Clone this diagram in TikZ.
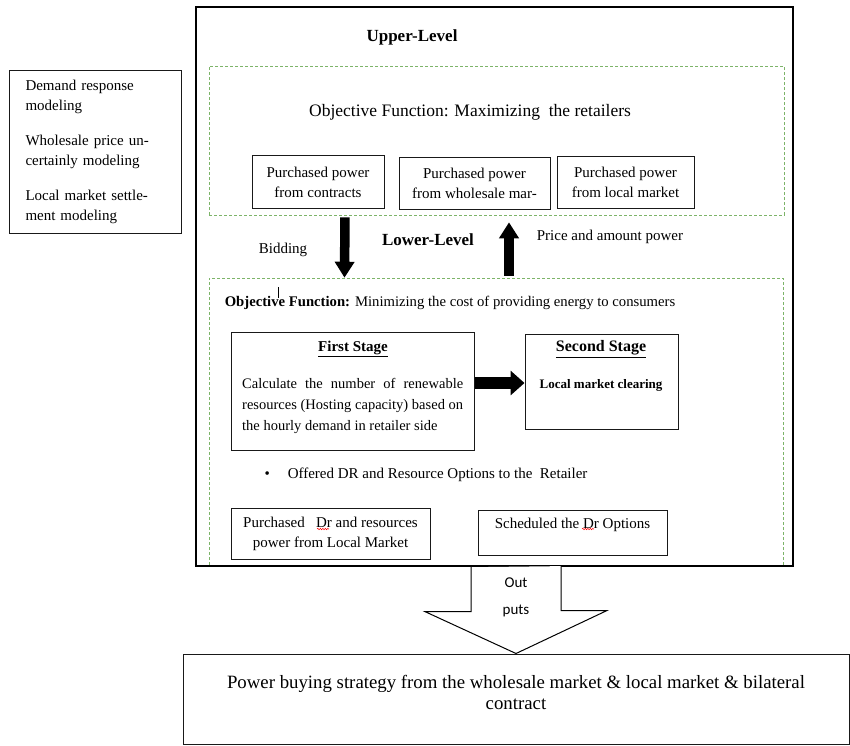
\documentclass[tikz,border=0pt]{standalone}
\usepackage{fontspec}
\setmainfont{Liberation Serif}
\newfontfamily\calibri{Carlito}
\usepackage{tikz}
\usetikzlibrary{arrows.meta,positioning,calc,decorations.pathmorphing}
\definecolor{dashgreen}{RGB}{125,180,105}

\begin{document}
\begin{tikzpicture}[x=1pt,y=-1pt,box/.style={draw=black!90,line width=1pt,rectangle,fill=white},zone/.style={draw=dashgreen,dash pattern=on 3pt off 2pt,line width=0.6pt,rectangle},body/.style={font=\fontsize{15}{20}\selectfont,align=center},level/.style={font=\fontsize{17}{20}\selectfont\bfseries},fat/.style={line width=9.5pt,-{Triangle[width=19pt,length=16pt]}},spell/.style={draw=red,line width=0.5pt,decorate,decoration={snake,amplitude=0.7pt,segment length=2.5pt}}]
	\useasboundingbox (0,0) rectangle (850,745);
	\node[zone,minimum width=575pt,minimum height=149pt]	(upzone)	at (496.5,140.5)	{};
	\node[zone,minimum width=574pt,minimum height=288pt]	(lowzone)	at (496,422)	{};
	\node[draw,line width=1.2pt,minimum width=597pt,minimum height=559pt]	(main)	at (494.5,286.5)	{};

	\node[box,anchor=north west,minimum width=172pt,minimum height=163pt,text width=140pt,inner xsep=16pt,align=left,font=\fontsize{15}{20}\selectfont]	(models)	at (9,70)	{Demand response\\modeling\\[15pt]Wholesale price un-\\certainly modeling\\[15pt]Local market settle-\\ment modeling};

	\node[level]	(upperlevel)	at (412,37)	{Upper-Level};
	\node[font=\fontsize{17.5}{20}\selectfont]	(upperobj)	at (470,112)	{Objective Function: Maximizing\ \ the retailers};
	\node[box,body,minimum width=132pt,minimum height=53pt]	(contracts)	at (318,182)	{Purchased power\\from contracts};
	\node[box,body,minimum width=151pt,minimum height=52pt]	(wholesale)	at (474.5,183)	{Purchased power\\from wholesale mar-};
	\node[box,body,minimum width=137pt,minimum height=52pt]	(localmkt)	at (625.5,182.5)	{Purchased power\\from local market};

	\node[body]	(bidding)	at (283,250)	{Bidding};
	\node[level]	(lowerlevel)	at (428,240)	{Lower-Level};
	\node[body]	(price)	at (610,237)	{Price and amount power};
	\path
		([xshift=-151.5pt]upzone.south)	edge	[fat,shorten <=2pt]	([xshift=-151.5pt]lowzone.north)
		([xshift=13pt]lowzone.north)	edge	[fat,shorten <=2pt,shorten >=7pt]	([xshift=12.5pt]upzone.south)
	;

	\node[font=\fontsize{14.7}{20}\selectfont]	(lowerobj)	at (450,303)	{\textbf{Objective Function:} Minimizing the cost of providing energy to consumers};
	\draw[line width=0.6pt] (278,287) -- (278,298);

	\node[box,minimum width=243pt,minimum height=118pt]	(stageone)	at (352.5,391)	{};
	\node[font=\fontsize{15}{20}\selectfont\bfseries]	(stageonehead)	at (353,349)	{\underline{First Stage}};
	\node[anchor=north west,text width=221pt,inner sep=0pt,align=justify,font=\fontsize{14.5}{21}\selectfont]	(stageonetext)	at (242,378)	{Calculate the number of renewable\linebreak resources (Hosting capacity) based on\linebreak the hourly demand in retailer side};
	\node[box,minimum width=153pt,minimum height=95pt]	(stagetwo)	at (601.5,381.5)	{};
	\node[font=\fontsize{16}{20}\selectfont\bfseries]	(stagetwohead)	at (601,349)	{\underline{Second Stage}};
	\node[font=\fontsize{13}{20}\selectfont\bfseries]	(clearing)	at (601,385)	{Local market clearing};
	\draw[line width=12pt,-{Triangle[width=24pt,length=14pt]}] ([yshift=8pt]stageone.east) -- ([yshift=8pt]stageone.east -| stagetwo.west);

	\node[body,anchor=west]	(offer)	at (261,475)	{\textbullet\hspace{18pt}Offered DR and Resource Options to the\ \ Retailer};
	\node[box,body,minimum width=199pt,minimum height=51pt]	(buydr)	at (330.5,533.5)	{Purchased\ \ \ Dr and resources\\power from Local Market};
	\node[box,body,minimum width=189pt,minimum height=45pt,text depth=18pt]	(schedule)	at (572.5,532.5)	{Scheduled the Dr Options};
	\draw[spell] (317,529) -- (329,529);
	\draw[spell] (582,529) -- (594,529);

	\node[box,minimum width=666pt,minimum height=90pt]	(result)	at (516,699)	{};
	\node[font=\fontsize{18.8}{21}\selectfont,align=center]	(resulttext)	at (516,692)	{Power buying strategy from the wholesale market \& local market \& bilateral\\contract};
	\draw[line width=1pt,fill=white] ($(result.north |- main.south)+(-45,0.6)$) -- ++(0,44.4) -- ++(-46,0) -- (result.north) -- ++(91,-43) -- ++(-46,0) -- ++(0,-44.4);
	\node[font=\calibri\fontsize{15}{27}\selectfont,align=center]	(outputs)	at (516,597)	{Out\\puts};
\end{tikzpicture}
\end{document}
